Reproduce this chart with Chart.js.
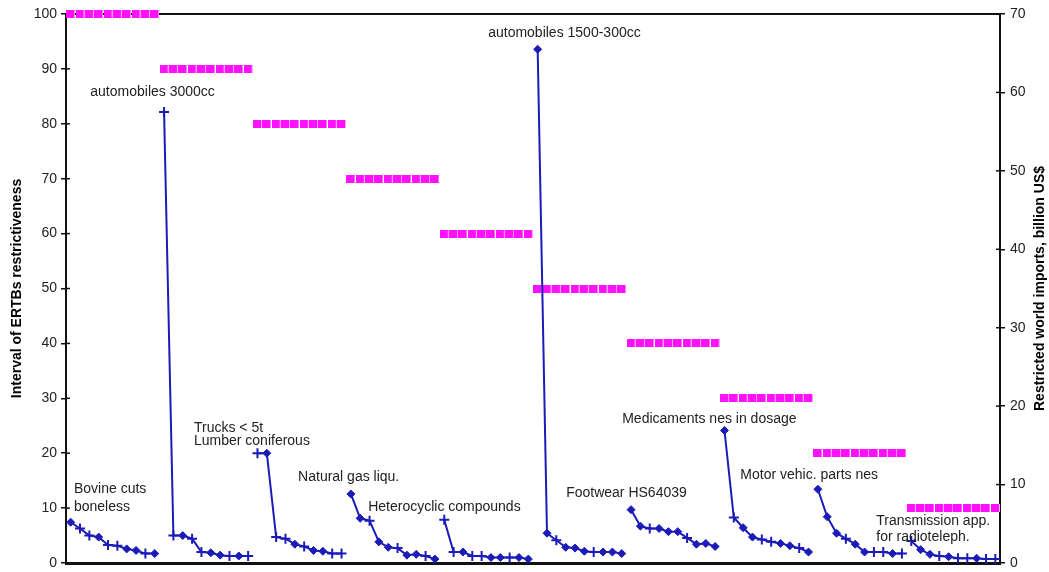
<!DOCTYPE html>
<html>
<head>
<meta charset="utf-8">
<script src="https://cdn.jsdelivr.net/npm/chart.js@4.4.0/dist/chart.umd.min.js"></script>
<style>
  html, body { margin: 0; padding: 0; background: #fff; }
  #wrap { width: 1049px; height: 572px; position: relative; }
</style>
</head>
<body>
<div id="wrap"><canvas id="grafik"></canvas></div>
<script>
// ====== DATA ======

// 10 produk x 10 titik
const groupSize = 10;
const kategori = [
  "1","2","3","4","5","6","7","8","9","10",
  "11","12","13","14","15","16","17","18","19","20",
  "21","22","23","24","25","26","27","28","29","30",
  "31","32","33","34","35","36","37","38","39","40",
  "41","42","43","44","45","46","47","48","49","50",
  "51","52","53","54","55","56","57","58","59","60",
  "61","62","63","64","65","66","67","68","69","70",
  "71","72","73","74","75","76","77","78","79","80",
  "81","82","83","84","85","86","87","88","89","90",
  "91","92","93","94","95","96","97","98","99","100"
];

// Interval ERTB (sumbu kiri)
const intervalERTB = [
  100, 100, 100, 100, 100, 100, 100, 100, 100, 100,
  90, 90, 90, 90, 90, 90, 90, 90, 90, 90,
  80, 80, 80, 80, 80, 80, 80, 80, 80, 80,
  70, 70, 70, 70, 70, 70, 70, 70, 70, 70,
  60, 60, 60, 60, 60, 60, 60, 60, 60, 60,
  50, 50, 50, 50, 50, 50, 50, 50, 50, 50,
  40, 40, 40, 40, 40, 40, 40, 40, 40, 40,
  30, 30, 30, 30, 30, 30, 30, 30, 30, 30,
  20, 20, 20, 20, 20, 20, 20, 20, 20, 20,
  10, 10, 10, 10, 10, 10, 10, 10, 10, 10
];

// Impor dunia terbatas, miliar US$ (sumbu kanan)
const imporDunia = [
  5.2, 4.4, 3.5, 3.3, 2.3, 2.2, 1.8, 1.6, 1.2, 1.2,
  57.5, 3.5, 3.5, 3.1, 1.4, 1.3, 1.0, 0.9, 0.9, 0.9,
  14.0, 14.0, 3.3, 3.1, 2.4, 2.1, 1.6, 1.5, 1.2, 1.2,
  8.8, 5.7, 5.4, 2.7, 2.0, 1.9, 1.0, 1.1, 0.9, 0.5,
  5.5, 1.4, 1.4, 0.9, 0.9, 0.7, 0.7, 0.7, 0.7, 0.5,
  65.5, 3.8, 2.9, 2.0, 1.9, 1.5, 1.4, 1.4, 1.4, 1.2,
  6.8, 4.7, 4.4, 4.4, 4.0, 4.0, 3.2, 2.4, 2.5, 2.1,
  16.9, 5.8, 4.5, 3.3, 3.0, 2.7, 2.5, 2.2, 1.9, 1.4,
  9.4, 5.9, 3.8, 3.1, 2.4, 1.4, 1.4, 1.4, 1.2, 1.2,
  2.8, 1.7, 1.1, 0.9, 0.8, 0.6, 0.6, 0.6, 0.5, 0.5
];

const tickKiri = [0, 10, 20, 30, 40, 50, 60, 70, 80, 90, 100];
const tickKanan = [0, 10, 20, 30, 40, 50, 60, 70];

// Label produk: teks, indeks kategori, nilai sumbu kanan
const labelProduk = [
  { teks: "automobiles 3000cc", i: 2.1, v: 60.0 },
  { teks: "Bovine cuts", i: 0.35, v: 9.4 },
  { teks: "boneless", i: 0.35, v: 7.1 },
  { teks: "Trucks < 5t", i: 13.2, v: 17.2 },
  { teks: "Lumber coniferous", i: 13.2, v: 15.5 },
  { teks: "Natural gas liqu.", i: 24.35, v: 10.95 },
  { teks: "Heterocyclic compounds", i: 31.85, v: 7.1 },
  { teks: "automobiles 1500-300cc", i: 44.7, v: 67.6 },
  { teks: "Footwear HS64039", i: 53.05, v: 8.9 },
  { teks: "Medicaments nes in dosage", i: 59.05, v: 18.35 },
  { teks: "Motor vehic. parts nes", i: 71.7, v: 11.2 },
  { teks: "Transmission app.", i: 86.25, v: 5.35 },
  { teks: "for radioteleph.", i: 86.25, v: 3.3 }
];

// ====== GAYA ======
const biru = "#1b1bb8";
const magenta = "#ff10ff";
const teks = "#222";
const fontDasar = "'Liberation Sans', Arial, sans-serif";

// penanda persegi magenta 9x8
const kotakMagenta = document.createElement("canvas");
kotakMagenta.width = 9;
kotakMagenta.height = 8;
const kctx = kotakMagenta.getContext("2d");
kctx.fillStyle = magenta;
kctx.fillRect(0, 0, 9, 8);
kctx.fillStyle = "rgba(255,180,255,0.9)";
kctx.fillRect(8, 0, 1, 8);

// titik yang memakai penanda "+" (sisanya belah ketupat)
const penandaPlus = new Set([
  1, 2, 4, 5, 8,
  10, 11, 13, 14, 17, 19,
  20, 22, 23, 25, 28, 29,
  32, 35, 38,
  40, 41, 43, 44, 47,
  52, 56,
  62, 66,
  71, 74, 75, 78,
  83, 86, 87, 89,
  90, 93, 95, 96, 98, 99
]);

// plugin: garis atas, tick ke dalam, judul sumbu, label produk
const dekorasi = {
  id: "dekorasi",
  beforeDatasetsDraw(chart) {
    const { ctx, chartArea } = chart;
    ctx.save();
    ctx.strokeStyle = "#111";
    ctx.lineWidth = 2;
    ctx.beginPath();
    ctx.moveTo(chartArea.left, chartArea.top);
    ctx.lineTo(chartArea.right, chartArea.top);
    ctx.stroke();

    // tick kecil ke dalam
    ctx.lineWidth = 1.5;
    const yL = chart.scales.yKiri;
    const yR = chart.scales.yKanan;
    yL.ticks.forEach((t, i) => {
      const y = yL.getPixelForTick(i);
      ctx.beginPath();
      ctx.moveTo(chartArea.left, y);
      ctx.lineTo(chartArea.left + 4, y);
      ctx.stroke();
    });
    yR.ticks.forEach((t, i) => {
      const y = yR.getPixelForTick(i);
      ctx.beginPath();
      ctx.moveTo(chartArea.right, y);
      ctx.lineTo(chartArea.right - 4, y);
      ctx.stroke();
    });
    ctx.restore();
  },
  afterDraw(chart) {
    const { ctx, chartArea } = chart;
    const x = chart.scales.x;
    const yR = chart.scales.yKanan;
    const midY = (chartArea.top + chartArea.bottom) / 2;

    ctx.save();
    ctx.fillStyle = "#000";
    ctx.font = "bold 14px " + fontDasar;
    ctx.textAlign = "center";
    ctx.textBaseline = "middle";

    ctx.save();
    ctx.translate(17, midY);
    ctx.rotate(-Math.PI / 2);
    ctx.fillText("Interval of ERTBs restrictiveness", 0, 0);
    ctx.restore();

    ctx.save();
    ctx.translate(1040, midY);
    ctx.rotate(-Math.PI / 2);
    ctx.fillText("Restricted world imports, billion US$", 0, 0);
    ctx.restore();

    // label produk
    const x0 = x.getPixelForValue(0);
    const langkah = x.getPixelForValue(1) - x0;
    ctx.fillStyle = teks;
    ctx.font = "14px " + fontDasar;
    ctx.textAlign = "left";
    labelProduk.forEach((l) => {
      ctx.fillText(l.teks, x0 + l.i * langkah, yR.getPixelForValue(l.v));
    });
    ctx.restore();
  }
};

const ctx = document.getElementById("grafik").getContext("2d");
new Chart(ctx, {
  type: "line",
  data: {
    labels: kategori,
    datasets: [
      {
        label: "Interval of ERTBs restrictiveness",
        data: intervalERTB,
        yAxisID: "yKiri",
        showLine: false,
        pointStyle: kotakMagenta,
        pointRadius: 5,
        pointHoverRadius: 5,
        clip: false,
        order: 1
      },
      {
        label: "Restricted world imports",
        data: imporDunia,
        yAxisID: "yKanan",
        borderColor: biru,
        borderWidth: 2,
        tension: 0,
        pointStyle: (c) => (penandaPlus.has(c.dataIndex) ? "cross" : "rectRot"),
        pointRadius: (c) => (penandaPlus.has(c.dataIndex) ? 5 : 4),
        pointBackgroundColor: biru,
        pointBorderColor: biru,
        pointBorderWidth: (c) => (penandaPlus.has(c.dataIndex) ? 2 : 1),
        segment: {
          borderColor: (s) => (s.p0DataIndex % groupSize === groupSize - 1 ? "rgba(0,0,0,0)" : undefined)
        },
        clip: false,
        order: 0
      }
    ]
  },
  options: {
    responsive: true,
    maintainAspectRatio: false,
    animation: false,
    layout: { padding: { top: 14, left: 0, right: 0, bottom: 0 } },
    plugins: {
      legend: { display: false },
      tooltip: { enabled: false }
    },
    scales: {
      x: {
        type: "category",
        offset: true,
        ticks: { display: false },
        grid: { display: false },
        border: { display: true, color: "#111", width: 3 },
        afterFit: (s) => { s.height = 9; s.paddingLeft = 0; s.paddingRight = 0; }
      },
      yKiri: {
        position: "left",
        min: 0,
        max: 100,
        afterBuildTicks: (s) => { s.ticks = tickKiri.map((v) => ({ value: v })); },
        ticks: {
          color: teks,
          font: { family: fontDasar, size: 14 },
          padding: 4
        },
        grid: { drawOnChartArea: false, drawTicks: true, tickLength: 5, color: "#111", lineWidth: 1.5 },
        border: { display: true, color: "#111", width: 2 },
        afterFit: (s) => { s.width = 66; s.paddingTop = 0; s.paddingBottom = 0; }
      },
      yKanan: {
        position: "right",
        min: 0,
        max: 70,
        afterBuildTicks: (s) => { s.ticks = tickKanan.map((v) => ({ value: v })); },
        ticks: {
          color: teks,
          font: { family: fontDasar, size: 14 },
          padding: 5
        },
        grid: { drawOnChartArea: false, drawTicks: true, tickLength: 5, color: "#111", lineWidth: 1.5 },
        border: { display: true, color: "#111", width: 2 },
        afterFit: (s) => { s.width = 49; s.paddingTop = 0; s.paddingBottom = 0; }
      }
    }
  },
  plugins: [dekorasi]
});
</script>
</body>
</html>
